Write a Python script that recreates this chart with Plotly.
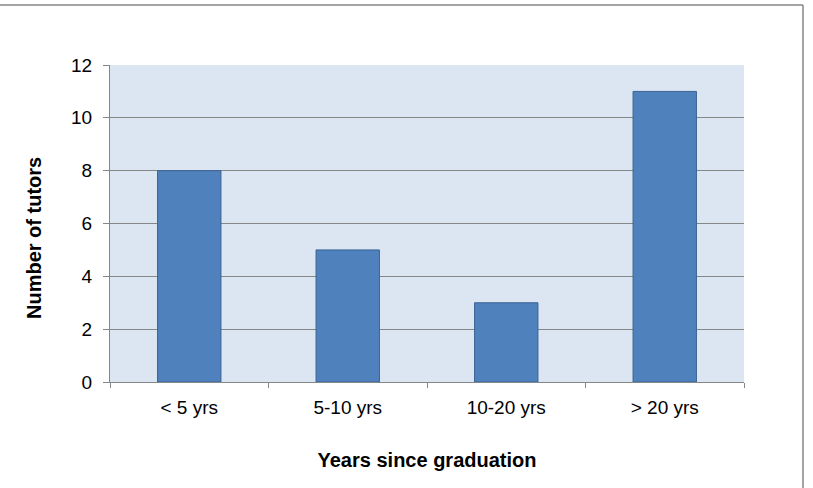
import plotly.graph_objects as go

categories = ["< 5 yrs", "5-10 yrs", "10-20 yrs", "> 20 yrs"]
values = [8, 5, 3, 11]
y_ticks = [0, 2, 4, 6, 8, 10, 12]

fig = go.Figure()
fig.add_trace(go.Bar(
    x=categories, y=values, width=0.4,
    marker=dict(color="#4f81bd", line=dict(color="#3a6393", width=1)),
))

font = "Liberation Sans, Arial, sans-serif"
W, H = 813, 488
L, R, T, B = 110, 69, 65, 106
pw, ph = W - L - R, H - T - B
fig.update_layout(
    width=W, height=H,
    margin=dict(l=L, r=R, t=T, b=B),
    paper_bgcolor="white", plot_bgcolor="#dce6f2",
    showlegend=False,
    font=dict(family=font, size=19, color="black"),
    xaxis=dict(
        type="category", showgrid=False, showline=True, linecolor="#868686", linewidth=1,
        ticks="outside", ticklen=5, tickcolor="#868686", tickson="boundaries",
        tickfont=dict(size=19), ticklabelstandoff=8,
        title=dict(text="<b>Years since graduation</b>", font=dict(size=20), standoff=36),
    ),
    yaxis=dict(
        range=[0, 12], tickvals=y_ticks, showgrid=True, gridcolor="#868686", gridwidth=1,
        showline=True, linecolor="#868686", linewidth=1,
        ticks="outside", ticklen=6, tickcolor="#868686",
        tickfont=dict(size=19), ticklabelstandoff=7,
        zeroline=False,
    ),
    annotations=[
        dict(text="<b>Number of tutors</b>", textangle=-90, showarrow=False,
             xref="paper", yref="paper", x=(34 - L) / pw, y=(H - B - 238) / ph,
             xanchor="center", yanchor="middle", font=dict(size=20)),
    ],
    shapes=[
        dict(type="line", xref="paper", yref="paper", x0=(803 - L) / pw, x1=(803 - L) / pw,
             y0=-B / ph, y1=1 + 60 / ph, line=dict(color="#868686", width=1.5)),
        dict(type="line", xref="paper", yref="paper", x0=-L / pw, x1=(803 - L) / pw,
             y0=1 + 60 / ph, y1=1 + 60 / ph, line=dict(color="#868686", width=1.5)),
    ],
)
fig.write_html("out.html")
